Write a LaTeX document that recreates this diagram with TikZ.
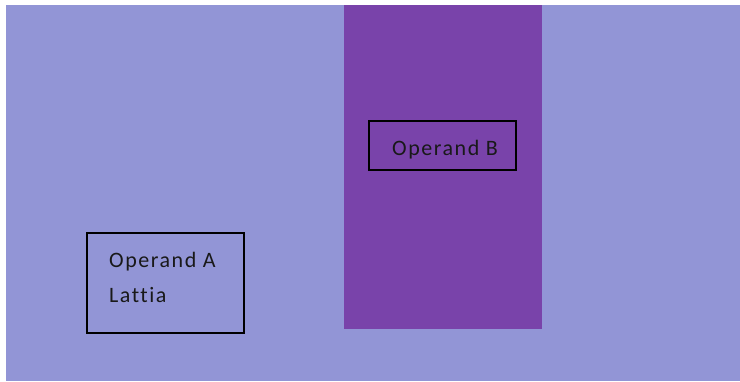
\documentclass[tikz,border=0pt]{standalone}
\usepackage{fontspec}
\setmainfont{Carlito}[Ligatures=NoCommon, LetterSpace=7]
\definecolor{lavender}{RGB}{146,149,214}
\definecolor{bandpurple}{RGB}{121,67,170}
\tikzset{
  opbox/.style={draw=black, line width=1.5pt, inner sep=0pt},
  optext/.style={font=\fontsize{22}{26}\selectfont, text=black!90, anchor=base west, inner sep=0pt}
}
\begin{document}
\begin{tikzpicture}[x=1pt,y=-1pt]
  \useasboundingbox (0,0) rectangle (740,381);
  % background panel
  \fill[lavender] (6,5) rectangle (740,381);
  % vertical band
  \fill[bandpurple] (344,5) rectangle (542,329);
  % operand boxes
  \node[opbox, minimum width=147pt, minimum height=49pt] (boxB) at (442.5,145.5) {};
  \node[opbox, minimum width=157pt, minimum height=100pt] (boxA) at (165.5,283) {};
  \node[optext] (labB) at (392,155) {Operand B};
  \node[optext] (labA1) at (109,267) {Operand A};
  \node[optext] (labA2) at (109,302) {Lattia};
\end{tikzpicture}
\end{document}
